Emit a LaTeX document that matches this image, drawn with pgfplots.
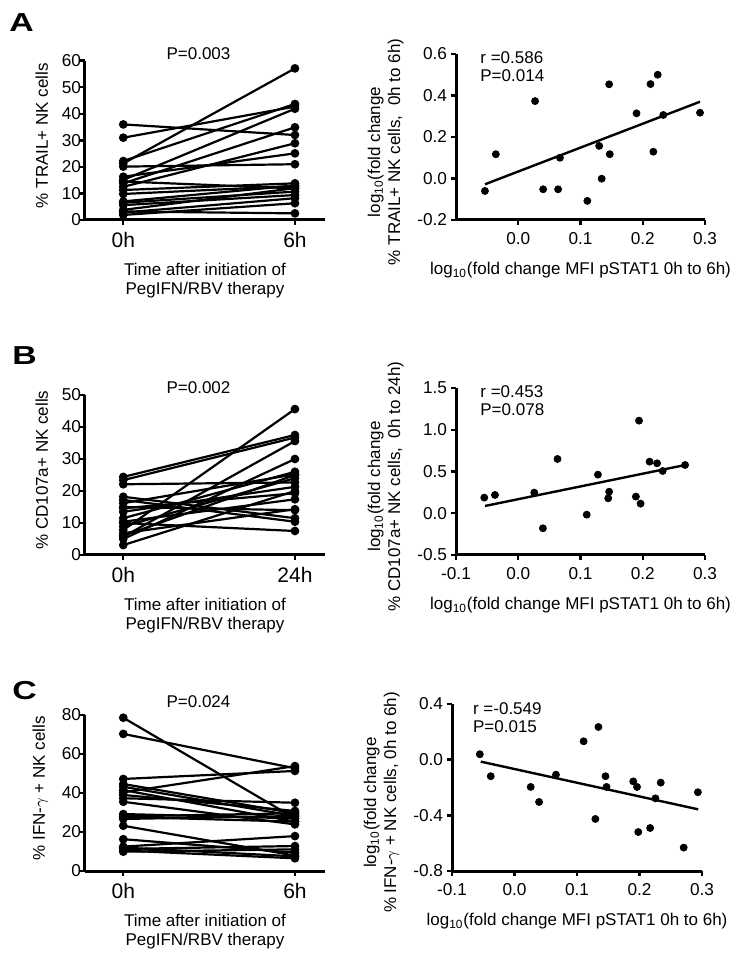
\documentclass[border=0pt]{standalone}
\usepackage{fontspec}
\setmainfont{Liberation Sans}
\usepackage{graphicx}
\usepackage{pgfplots}
\pgfplotsset{compat=1.18}

\newcommand{\pr}[2]{\addplot[pairline] coordinates {(0,#1) (1,#2)};}

\pgfplotsset{
  base/.style={scale only axis, anchor=south west,
    axis x line*=bottom, axis y line*=left,
    axis line style={line width=1.5pt, -},
    tick style={line width=1.2pt, black},
    major tick length=2.5pt, tick align=outside, clip=false,
    /pgf/number format/assume math mode=true,
    tick label style={font=\fontsize{8.6}{10}\selectfont},
    label style={font=\fontsize{8.5}{10}\selectfont}},
  pairax/.style={base, xmin=-0.223, xmax=1.175, xtick={0,1}, width=120pt,
    x tick label style={font=\fontsize{10.5}{12}\selectfont},
    y tick label style={xshift=4pt},
    xlabel={Time after initiation of\\PegIFN/RBV therapy},
    xlabel style={align=center, font=\fontsize{8.5}{9.65}\selectfont, yshift=-1pt},
    ylabel style={at={(ticklabel cs:0.53)}, xshift=0pt}},
  corrax/.style={base, xmin=-0.1, xmax=0.3, width=124.5pt,
    x tick label style={/pgf/number format/fixed, /pgf/number format/fixed zerofill, /pgf/number format/precision=1},
    y tick label style={xshift=1.5pt, /pgf/number format/fixed, /pgf/number format/fixed zerofill, /pgf/number format/precision=1},
    xlabel={log\textsubscript{10}(fold change MFI pSTAT1 0h to 6h)},
    xlabel style={yshift=-2pt},
    ylabel style={align=center, at={(ticklabel cs:0.41)}}},
  pairline/.style={black, line width=1.1pt, mark=*, mark size=1.6pt, mark options={solid}},
  dot/.style={only marks, mark=*, mark size=1.75pt, black},
  fit/.style={black, line width=1.2pt, no marks},
}

\begin{document}
\begin{tikzpicture}
\path[use as bounding box] (0,0) rectangle (375.5pt,479pt);

% ---------- A left ----------
\begin{axis}[pairax, at={(42.5pt,369pt)}, height=79.65pt, ymin=0, ymax=60,
  ytick={0,10,...,60}, xticklabels={0h,6h}, ylabel={\% TRAIL+ NK cells}]
\pr{36.0}{32.0}
\pr{31.0}{42.7}
\pr{22.2}{43.7}
\pr{21.3}{57.1}
\pr{20.1}{21.0}
\pr{16.3}{25.1}
\pr{15.1}{41.9}
\pr{13.8}{34.9}
\pr{12.5}{28.9}
\pr{11.3}{13.8}
\pr{9.8}{12.8}
\pr{14.5}{11.9}
\pr{6.5}{10.7}
\pr{5.6}{9.4}
\pr{3.8}{12.0}
\pr{2.8}{8.2}
\pr{1.9}{6.3}
\pr{7.0}{13.0}
\pr{3.2}{2.5}
\end{axis}

% ---------- B left ----------
\begin{axis}[pairax, at={(42.5pt,201.5pt)}, height=80pt, ymin=0, ymax=50,
  ytick={0,10,...,50}, xticklabels={0h,24h}, ylabel={\% CD107a+ NK cells}]
\pr{24.4}{37.5}
\pr{23.4}{36.7}
\pr{22.1}{22.7}
\pr{18.2}{11.5}
\pr{17.2}{10.4}
\pr{16.2}{25.2}
\pr{14.6}{19.3}
\pr{13.5}{21.3}
\pr{11.5}{26.0}
\pr{10.4}{17.4}
\pr{7.8}{45.6}
\pr{8.9}{24.0}
\pr{6.8}{14.3}
\pr{5.7}{35.6}
\pr{5.0}{30.0}
\pr{3.1}{20.0}
\pr{10.0}{7.5}
\pr{6.0}{25.0}
\pr{15.0}{14.0}
\end{axis}

% ---------- C left ----------
\begin{axis}[pairax, at={(42.5pt,43.5pt)}, height=78pt, ymin=0, ymax=80,
  ytick={0,20,...,80}, xticklabels={0h,6h}, ylabel={\% IFN-$\gamma$ + NK cells}]
\pr{78.6}{27.0}
\pr{70.3}{52.7}
\pr{47.2}{51.3}
\pr{40.3}{53.8}
\pr{44.6}{29.6}
\pr{43.2}{28.2}
\pr{41.5}{25.3}
\pr{39.0}{30.8}
\pr{37.3}{35.0}
\pr{35.5}{23.9}
\pr{29.2}{27.0}
\pr{27.8}{25.3}
\pr{26.7}{28.2}
\pr{28.0}{29.6}
\pr{23.2}{7.9}
\pr{16.3}{9.4}
\pr{12.5}{17.9}
\pr{11.3}{12.8}
\pr{9.9}{11.1}
\pr{10.5}{6.5}
\pr{12.0}{7.5}
\end{axis}

% ---------- A right ----------
\begin{axis}[corrax, at={(228pt,369pt)}, height=83pt, ymin=-0.2, ymax=0.6,
  xtick={0,0.1,0.2,0.3}, ytick={-0.2,0,0.2,0.4,0.6},
  ylabel={log\textsubscript{10}(fold change\\\% TRAIL+ NK cells,\ \ 0h to 6h)}]
\addplot[dot] coordinates {
(-0.0535,-0.060) (-0.036,0.117) (0.027,0.373) (0.040,-0.052) (0.064,-0.052)
(0.067,0.100) (0.111,-0.108) (0.130,0.157) (0.134,-0.001) (0.146,0.454)
(0.147,0.117) (0.190,0.314) (0.2125,0.455) (0.217,0.129) (0.224,0.500)
(0.233,0.306) (0.292,0.317)};
\addplot[fit] coordinates {(-0.0535,-0.028) (0.292,0.370)};
\end{axis}

% ---------- B right ----------
\begin{axis}[corrax, at={(228pt,201.5pt)}, height=83.5pt, ymin=-0.5, ymax=1.5,
  xtick={-0.1,0,0.1,0.2,0.3}, ytick={-0.5,0,0.5,1,1.5},
  ylabel={log\textsubscript{10}(fold change\\\% CD107a+ NK cells,\ \ 0h to 24h)}]
\addplot[dot] coordinates {
(-0.0546,0.187) (-0.0374,0.219) (0.0257,0.247) (0.0396,-0.180) (0.063,0.650)
(0.110,-0.017) (0.128,0.462) (0.146,0.258) (0.1445,0.179) (0.189,0.199)
(0.194,1.109) (0.1965,0.115) (0.211,0.618) (0.223,0.598) (0.232,0.506)
(0.268,0.578)};
\addplot[fit] coordinates {(-0.0535,0.087) (0.2685,0.578)};
\end{axis}

% ---------- C right ----------
\begin{axis}[corrax, at={(226pt,43.5pt)}, width=125pt, height=83.5pt, ymin=-0.8, ymax=0.4,
  xtick={-0.1,0,0.1,0.2,0.3}, ytick={-0.8,-0.4,0,0.4},
  ylabel={log\textsubscript{10}(fold change\\\% IFN-$\gamma$ + NK cells, 0h to 6h)}]
\addplot[dot] coordinates {
(-0.0555,0.039) (-0.038,-0.119) (0.0259,-0.196) (0.0393,-0.304) (0.0663,-0.108)
(0.1106,0.132) (0.1294,-0.426) (0.1343,0.235) (0.1456,-0.119) (0.1472,-0.196)
(0.190,-0.156) (0.196,-0.196) (0.198,-0.520) (0.217,-0.491) (0.2255,-0.278)
(0.234,-0.165) (0.2707,-0.632) (0.2934,-0.234)};
\addplot[fit] coordinates {(-0.054,-0.014) (0.294,-0.357)};
\end{axis}

% ---------- texts ----------
\begin{scope}[every node/.style={inner sep=0pt, font=\fontsize{8.5}{10}\selectfont}]
\node[anchor=base west, font=\bfseries\fontsize{13}{15}\selectfont] at (4.5pt,463pt) {\scalebox{1.3}[1]{A}};
\node[anchor=base west, font=\bfseries\fontsize{13}{15}\selectfont] at (6pt,296.5pt) {\scalebox{1.3}[1]{B}};
\node[anchor=base west, font=\bfseries\fontsize{13}{15}\selectfont] at (6pt,129pt) {\scalebox{1.3}[1]{C}};
\node[anchor=base] at (99.25pt,449pt) {P=0.003};
\node[anchor=base] at (99.25pt,282.35pt) {P=0.002};
\node[anchor=base] at (99.25pt,125.35pt) {P=0.024};
\node[anchor=base west] at (240pt,447.35pt) {r =0.586};
\node[anchor=base west] at (240pt,438.15pt) {P=0.014};
\node[anchor=base west] at (240pt,280.15pt) {r =0.453};
\node[anchor=base west] at (240pt,271.15pt) {P=0.078};
\node[anchor=base west] at (236.35pt,121.85pt) {r =-0.549};
\node[anchor=base west] at (236.35pt,112.85pt) {P=0.015};
\end{scope}
\end{tikzpicture}
\end{document}
